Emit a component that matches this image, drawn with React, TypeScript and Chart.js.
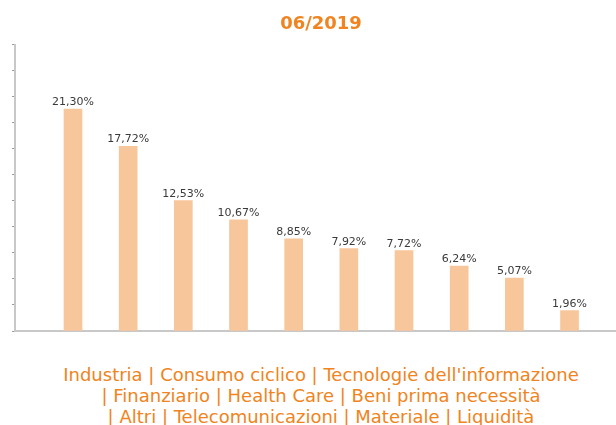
import React, { useEffect, useRef } from "react";
import { Chart, registerables } from "chart.js";

Chart.register(...registerables);

const titleText = "06/2019";
const categories = [
  "Industria",
  "Consumo ciclico",
  "Tecnologie dell'informazione",
  "Finanziario",
  "Health Care",
  "Beni prima necessità",
  "Altri",
  "Telecomunicazioni",
  "Materiale",
  "Liquidità",
];
const values = [21.3, 17.72, 12.53, 10.67, 8.85, 7.92, 7.72, 6.24, 5.07, 1.96];
const legendLines = [
  "Industria | Consumo ciclico | Tecnologie dell'informazione",
  "| Finanziario | Health Care | Beni prima necessità",
  "| Altri | Telecomunicazioni | Materiale | Liquidità",
];

const ORANGE = "#EF8420";
const BAR = "#F8C69B";
const AXIS = "#c8c8c8";
const CANVAS_W = 630;

const labelPlugin = {
  id: "barLabels",
  afterDatasetsDraw(chart: any) {
    const ctx = chart.ctx;
    const meta = chart.getDatasetMeta(0);
    ctx.save();
    ctx.font = "11px 'DejaVu Sans'";
    ctx.fillStyle = "#3a3a3a";
    ctx.textAlign = "center";
    ctx.textBaseline = "alphabetic";
    meta.data.forEach((bar: any, i: number) => {
      const v = values[i];
      const txt = v.toFixed(2).replace(".", ",") + "%";
      ctx.fillText(txt, bar.x, bar.y - 4);
    });
    ctx.restore();
  },
};

export default function App() {
  const ref = useRef<HTMLCanvasElement | null>(null);
  useEffect(() => {
    if (!ref.current) return;
    const chart = new Chart(ref.current, {
      type: "bar",
      data: {
        labels: categories,
        datasets: [
          {
            data: values.map((v, i) => ({ x: i, y: v })),
            backgroundColor: BAR,
            borderWidth: 0,
            barThickness: 18,
          },
        ],
      },
      options: {
        animation: false,
        responsive: false,
        maintainAspectRatio: false,
        layout: { padding: { left: 12, right: 0, top: 0, bottom: 11 } },
        plugins: {
          legend: { display: false },
          tooltip: { enabled: false },
          title: {
            display: true,
            text: titleText,
            color: ORANGE,
            font: { family: "'DejaVu Sans'", size: 18, weight: "bold" },
            padding: { top: 14, bottom: 9 },
          },
        },
        scales: {
          x: {
            type: "linear",
            min: -1.0513,
            max: 10.096,
            offset: false,
            afterBuildTicks: (scale: any) => {
              scale.ticks = [{ value: 4.5 }];
            },
            ticks: { display: false },
            grid: {
              display: true,
              drawOnChartArea: false,
              drawTicks: true,
              tickLength: 3,
              color: "#999",
              lineWidth: 1,
            },
            border: { display: true, color: AXIS, width: 2 },
          },
          y: {
            min: 0,
            max: 27.5,
            ticks: { display: false, stepSize: 2.5 },
            grid: {
              display: true,
              drawOnChartArea: false,
              drawTicks: true,
              tickLength: 3,
              color: "#999",
              lineWidth: 1,
            },
            border: { display: true, color: AXIS, width: 2 },
          },
        },
      },
      plugins: [labelPlugin],
    } as any);
    return () => chart.destroy();
  }, []);

  return (
    <div
      style={{
        position: "fixed",
        left: 0,
        top: 0,
        width: 616,
        height: 425,
        overflow: "hidden",
        background: "#fff",
      }}
    >
      <canvas
        ref={ref}
        width={CANVAS_W}
        height={345}
        style={{ position: "absolute", left: 0, top: 0, width: CANVAS_W, height: 345 }}
      />
      <div
        style={{
          position: "absolute",
          left: 0,
          top: 364,
          width: 616,
          paddingLeft: 26,
          boxSizing: "border-box",
          textAlign: "center",
          fontFamily: "'DejaVu Sans'",
          fontSize: 18,
          lineHeight: "21px",
          color: ORANGE,
          whiteSpace: "nowrap",
        }}
      >
        {legendLines.map((l, i) => (
          <div key={i}>{l}</div>
        ))}
      </div>
    </div>
  );
}
